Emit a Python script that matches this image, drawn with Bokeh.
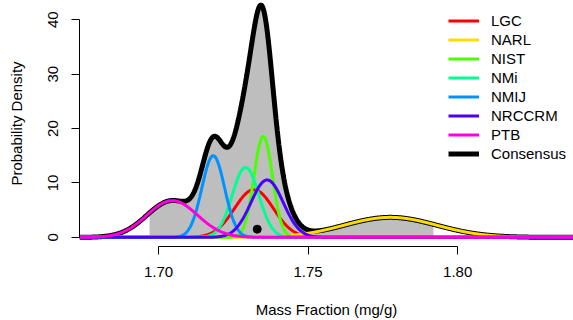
import numpy as np
from bokeh.plotting import figure
from bokeh.models import Range1d, Legend, LegendItem, FixedTicker
from bokeh.embed import file_html
from bokeh.resources import INLINE

# ---- data ----
labs = ["LGC", "NARL", "NIST", "NMi", "NMIJ", "NRCCRM", "PTB"]
means = [1.7319, 1.7775, 1.7350, 1.7291, 1.7183, 1.7363, 1.7046]
sds = [0.0065, 0.0155, 0.00307, 0.00443, 0.0038, 0.0054, 0.00844]
colors = ["#FF0000", "#FFDB00", "#49FF00", "#00FF92", "#0092FF", "#4900FF", "#FF00DB"]
weights = [1 / 7.0] * 7
fill_lo, fill_hi = 1.697, 1.792          # shaded interval of consensus
consensus_x = [1.7330]                   # consensus estimate (dot)
consensus_y = [1.5]
x_ticks = [1.70, 1.75, 1.80]
y_ticks = [0, 10, 20, 30, 40]
x_lim = (1.6736, 1.8387)
y_lim = (-1.68, 43.54)

FONT = "Liberation Sans"

x = np.linspace(x_lim[0], x_lim[1], 1200)
curves = []
for m, s, w in zip(means, sds, weights):
    curves.append(w * np.exp(-0.5 * ((x - m) / s) ** 2) / (s * np.sqrt(2 * np.pi)))
consensus = np.sum(curves, axis=0)

p = figure(width=573, height=320, output_backend="svg", toolbar_location=None,
           x_range=Range1d(*x_lim), y_range=Range1d(*y_lim),
           min_border_left=79, min_border_right=0, min_border_top=0, min_border_bottom=74)
p.outline_line_color = None
p.xgrid.visible = False
p.ygrid.visible = False
p.background_fill_color = "white"
p.border_fill_color = "white"

mask = (x >= fill_lo) & (x <= fill_hi)
p.varea(x=x[mask], y1=np.zeros(mask.sum()), y2=consensus[mask], fill_color="#BEBEBE")

r_cons = p.line(x, consensus, line_color="black", line_width=5)
renderers = []
for c, col in zip(curves, colors):
    renderers.append(p.line(x, c, line_color=col, line_width=3))

p.scatter(consensus_x, consensus_y, size=8, color="black")

items = [LegendItem(label=l, renderers=[r]) for l, r in zip(labs, renderers)]
items.append(LegendItem(label="Consensus", renderers=[r_cons]))
legend = Legend(items=items, location=(369, 83), margin=0, padding=0,
                border_line_color=None, background_fill_alpha=0,
                glyph_width=31, glyph_height=19, label_height=19, spacing=0,
                label_standoff=12, label_text_font=FONT, label_text_font_size="15px",
                label_text_color="black")
p.add_layout(legend)

for ax in (p.xaxis[0], p.yaxis[0]):
    ax.axis_line_color = "black"
    ax.major_tick_line_color = "black"
    ax.minor_tick_line_color = None
    ax.major_tick_in = 0
    ax.major_tick_out = 8
    ax.major_label_text_font = FONT
    ax.major_label_text_font_size = "15px"
    ax.major_label_text_color = "black"
    ax.axis_label_text_font = FONT
    ax.axis_label_text_font_size = "15px"
    ax.axis_label_text_font_style = "normal"
    ax.axis_label_text_color = "black"

p.xaxis.ticker = FixedTicker(ticks=x_ticks)
p.xaxis.bounds = (x_ticks[0], x_ticks[-1])
p.xaxis.major_label_overrides = {t: f"{t:.2f}" for t in x_ticks}
p.xaxis.axis_label = "Mass Fraction (mg/g)"
p.xaxis.major_label_standoff = 12
p.xaxis.axis_label_standoff = 21

p.yaxis.ticker = FixedTicker(ticks=y_ticks)
p.yaxis.bounds = (y_ticks[0], y_ticks[-1])
p.yaxis.axis_label = "Probability Density"
p.yaxis.major_label_orientation = "vertical"
p.yaxis.major_label_standoff = 13
p.yaxis.axis_label_standoff = 21

open("out.html", "w").write(file_html(p, INLINE))
